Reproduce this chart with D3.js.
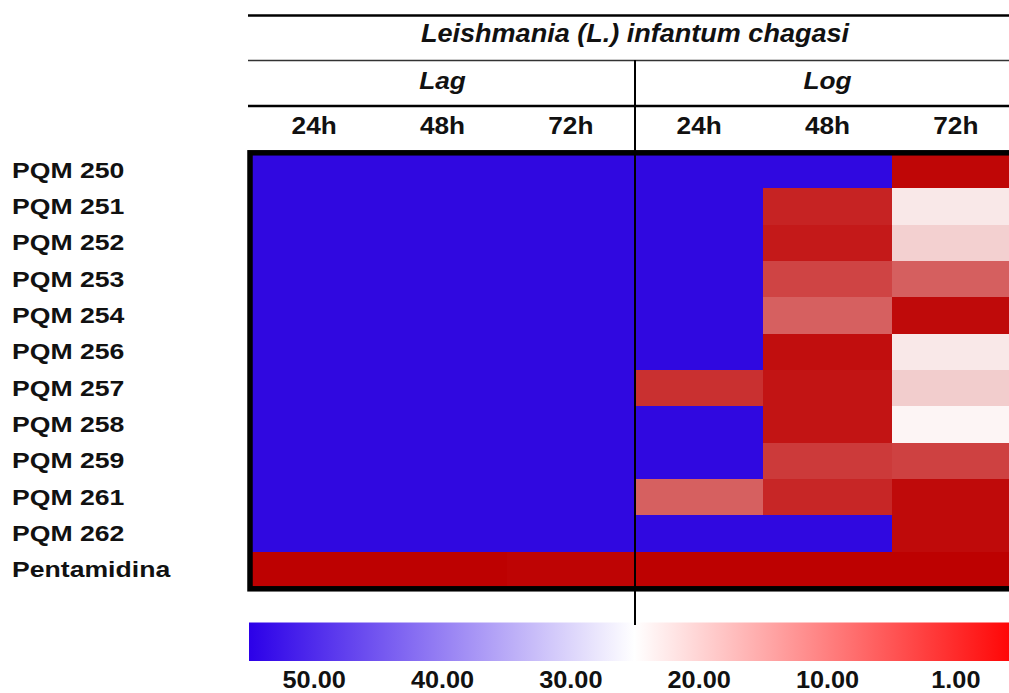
<!DOCTYPE html>
<html lang="en">
<head>
    <meta charset="UTF-8">
    <title>Heatmap</title>
    <style type="text/css">
        * {
            margin: 0;
            padding: 0;
        }
        body {
            background: #fff;
        }
        text {
            font-family: "Liberation Sans", Arial, sans-serif;
            font-weight: bold;
            fill: #111;
        }
    </style>
</head>
<body>
<div id="chart-area"></div>
<script src="https://cdn.jsdelivr.net/npm/d3@7"></script>
<script type="text/javascript">

  const W = 1009
  const H = 693
  const SX = 1.14   // labels in the original are a bit wider than Arial

  const compounds = ['PQM 250', 'PQM 251', 'PQM 252', 'PQM 253', 'PQM 254', 'PQM 256',
    'PQM 257', 'PQM 258', 'PQM 259', 'PQM 261', 'PQM 262', 'Pentamidina']
  const stages = ['Lag', 'Log']
  const times = ['24h', '48h', '72h']

  // one array per column (value for each compound, >=50 = inactive)
  const lag24 = [50, 50, 50, 50, 50, 50, 50, 50, 50, 50, 50, 1.1]
  const lag48 = [50, 50, 50, 50, 50, 50, 50, 50, 50, 50, 50, 1.1]
  const lag72 = [50, 50, 50, 50, 50, 50, 50, 50, 50, 50, 50, 1.4]
  const log24 = [50, 50, 50, 50, 50, 50, 5.5, 50, 50, 10, 50, 1.1]
  const log48 = [50, 4.3, 3.4, 7.4, 10, 2.3, 2.9, 2.9, 6.5, 4.6, 50, 1.1]
  const log72 = [1.6, 22.8, 20.6, 9.9, 1.9, 22.8, 20.3, 24.1, 7.1, 1.9, 1.9, 1.1]

  const legendLabels = ['50.00', '40.00', '30.00', '20.00', '10.00', '1.00']
  const legendColors = ['#2c00e8', '#ffffff', '#ff0000']

  const title = 'Leishmania (L.) infantum chagasi'

  const columns = stages.flatMap(s => times.map(t => `${s} ${t}`))
  const colValues = [lag24, lag48, lag72, log24, log48, log72]
  const cells = []
  compounds.forEach((c, i) => {
    columns.forEach((col, j) => {
      cells.push({compound: c, col: col, value: colValues[j][i]})
    })
  })

  const svg = d3.select('#chart-area').append('svg')
    .attr('width', W)
    .attr('height', H)

  const x = d3.scaleBand().domain(columns).range([250, 1020])
  const y = d3.scaleBand().domain(compounds).range([152, 588])
  const stageX = d3.scaleBand().domain(stages).range([250, 1020])

  const color = d3.scaleLinear()
    .domain([1, 25, 50])
    .range(['#bd0000', '#ffffff', '#3008e0'])
    .clamp(true)

  // cells
  svg.append('g').attr('class', 'cells')
    .attr('shape-rendering', 'crispEdges')
    .selectAll('rect')
    .data(cells)
    .join('rect')
    .attr('x', d => Math.round(x(d.col)))
    .attr('y', d => Math.round(y(d.compound)))
    .attr('width', d => Math.round(x(d.col) + x.bandwidth()) - Math.round(x(d.col)))
    .attr('height', d => Math.round(y(d.compound) + y.bandwidth()) - Math.round(y(d.compound)))
    .attr('fill', d => color(d.value))

  // thick frame round the grid
  svg.append('rect')
    .attr('x', x.range()[0])
    .attr('y', y.range()[0] + 0.8)
    .attr('width', x.range()[1] - x.range()[0])
    .attr('height', y.range()[1] - y.range()[0])
    .attr('fill', 'none')
    .attr('stroke', '#000')
    .attr('stroke-width', 5.5)

  // header rules
  const rules = [{y: 15.5, w: 2.5, c: '#000'}, {y: 60.5, w: 1.5, c: '#333'}, {y: 106, w: 2.5, c: '#000'}]
  svg.selectAll('line.rule')
    .data(rules)
    .join('line')
    .attr('class', 'rule')
    .attr('x1', 248)
    .attr('x2', W)
    .attr('y1', d => d.y)
    .attr('y2', d => d.y)
    .attr('stroke', d => d.c)
    .attr('stroke-width', d => d.w)

  // legend bar
  const grad = svg.append('defs').append('linearGradient')
    .attr('id', 'legend-grad')
  grad.selectAll('stop')
    .data(legendColors)
    .join('stop')
    .attr('offset', (d, i) => i / (legendColors.length - 1))
    .attr('stop-color', d => d)

  svg.append('rect')
    .attr('x', x.range()[0] - 1)
    .attr('y', 622.5)
    .attr('width', x.range()[1] - x.range()[0] + 1)
    .attr('height', 38.5)
    .attr('fill', 'url(#legend-grad)')

  // divider between Lag and Log
  svg.append('line')
    .attr('x1', stageX('Log'))
    .attr('x2', stageX('Log'))
    .attr('y1', 60)
    .attr('y2', 625)
    .attr('stroke', '#000')
    .attr('stroke-width', 2)

  // texts
  svg.append('text')
    .attr('transform', `translate(${stageX('Log')}, 42) scale(1.04, 1)`)
    .attr('text-anchor', 'middle')
    .attr('font-size', '26px')
    .attr('font-style', 'italic')
    .text(title)

  svg.selectAll('text.stage')
    .data(stages)
    .join('text')
    .attr('class', 'stage')
    .attr('transform', d => `translate(${stageX(d) + stageX.bandwidth() / 2}, 89) scale(${SX}, 1)`)
    .attr('text-anchor', 'middle')
    .attr('font-size', '23px')
    .attr('font-style', 'italic')
    .text(d => d)

  svg.selectAll('text.time')
    .data(columns)
    .join('text')
    .attr('class', 'time')
    .attr('transform', d => `translate(${x(d) + x.bandwidth() / 2}, 134) scale(${SX}, 1)`)
    .attr('text-anchor', 'middle')
    .attr('font-size', '23px')
    .text(d => d.split(' ')[1])

  svg.selectAll('text.row')
    .data(compounds)
    .join('text')
    .attr('class', 'row')
    .attr('transform', d => `translate(12, ${y(d) + y.bandwidth() / 2 + 7.5}) scale(1.21, 1)`)
    .attr('font-size', '22px')
    .text(d => d)

  svg.selectAll('text.legend')
    .data(legendLabels)
    .join('text')
    .attr('class', 'legend')
    .attr('transform', (d, i) => `translate(${x(columns[i]) + x.bandwidth() / 2}, 688) scale(1.1, 1)`)
    .attr('text-anchor', 'middle')
    .attr('font-size', '23px')
    .text(d => d)

</script>
</body>
</html>
